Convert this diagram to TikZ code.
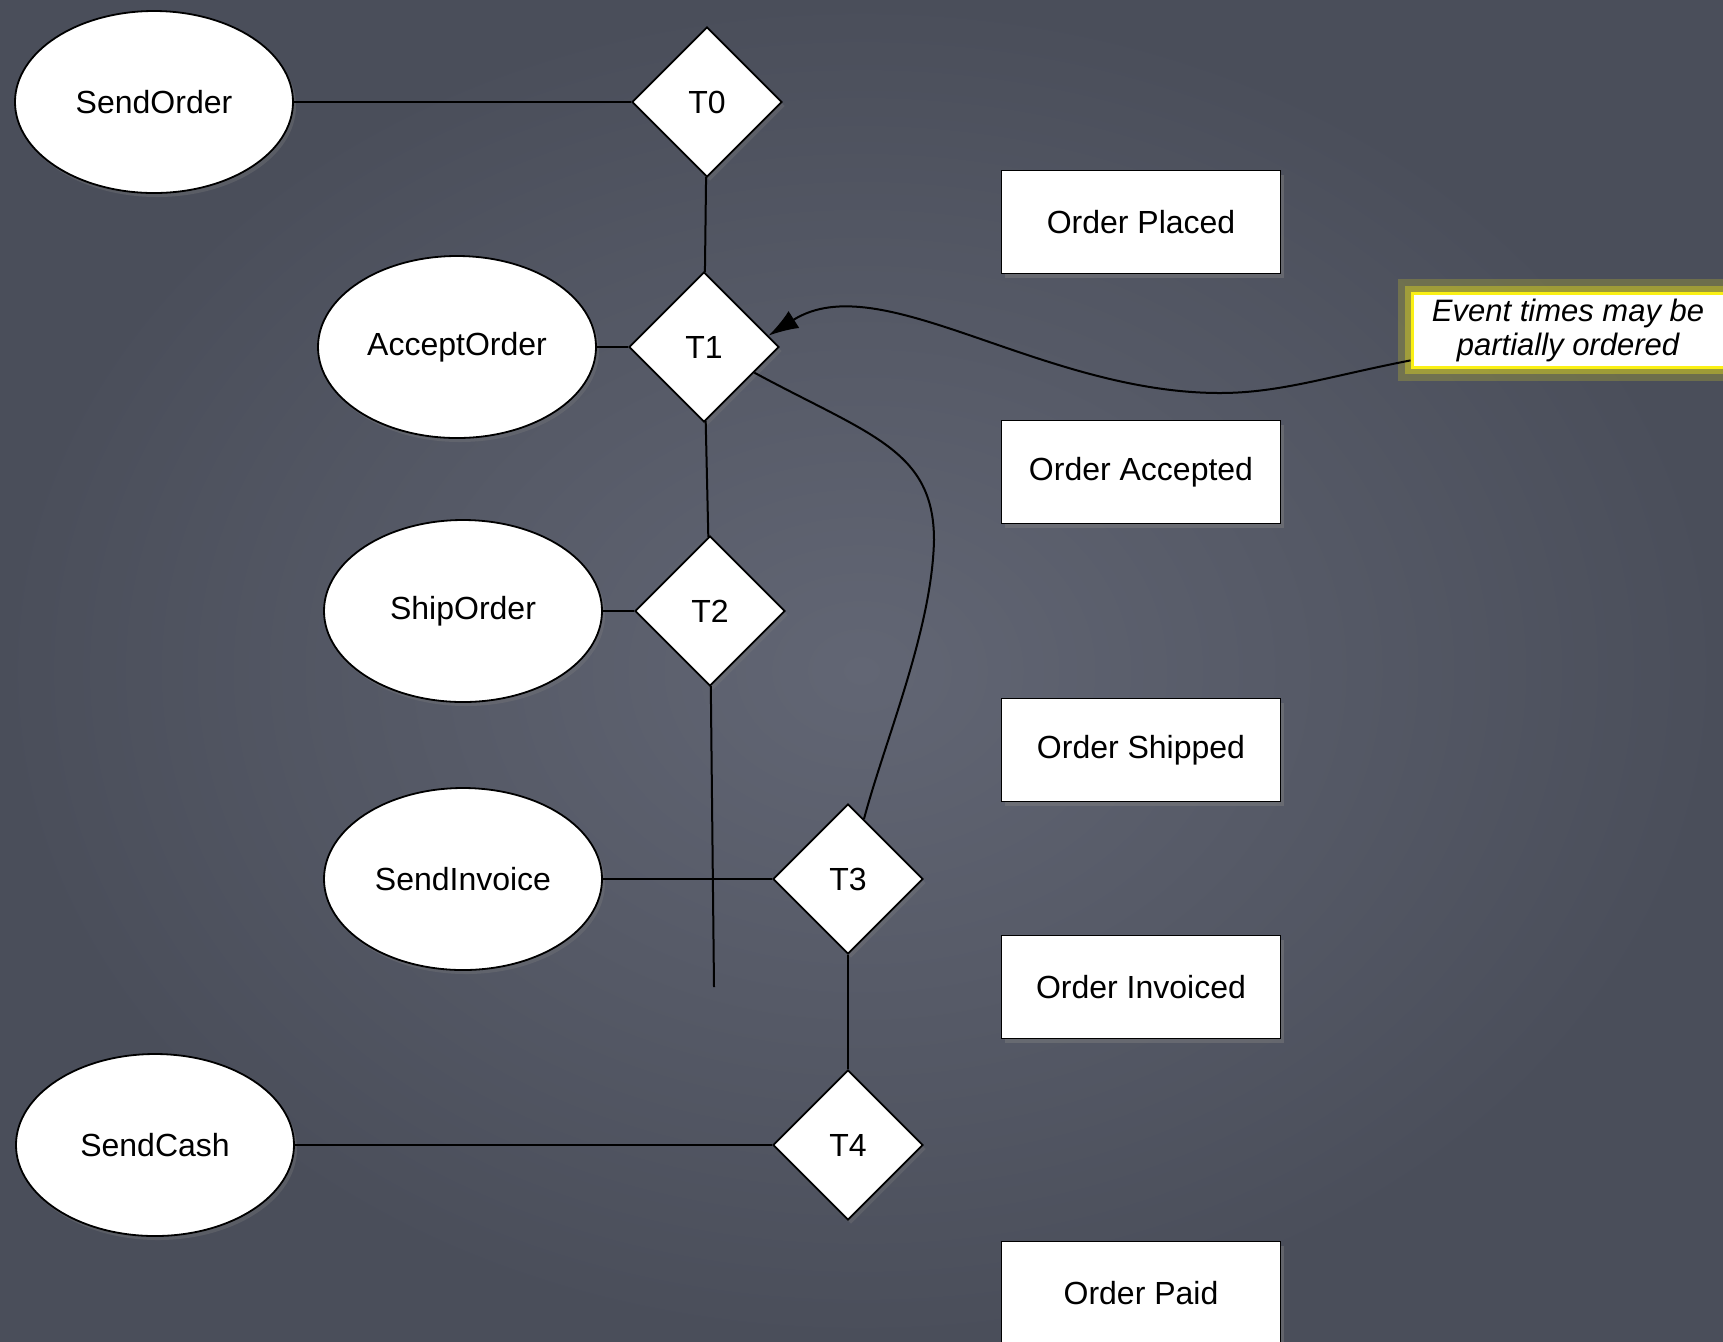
\documentclass[tikz,border=0pt]{standalone}
\usepackage{fontspec}
\setmainfont{Liberation Sans}
\usetikzlibrary{arrows, arrows.meta, shapes, positioning, shadows}
\definecolor{slatelight}{RGB}{98,102,116}
\definecolor{slatedark}{RGB}{74,78,90}
\definecolor{notegold}{RGB}{250,240,20}

\begin{document}
\begin{tikzpicture}[x=0.5pt, y=-0.5pt,
    every node/.style={font=\fontsize{16}{19}\selectfont},
    activity/.style={ellipse, draw=black, fill=white, line width=0.9pt,
      minimum width=139pt, minimum height=91pt, inner sep=0pt,
      drop shadow={opacity=0.3, shadow xshift=1.5pt, shadow yshift=-2pt}},
    trans/.style={diamond, draw=black, fill=white, line width=0.9pt,
      minimum width=75pt, minimum height=75pt, inner sep=0pt, aspect=1,
      drop shadow={opacity=0.3, shadow xshift=1.5pt, shadow yshift=-2pt}},
    state/.style={rectangle, draw=black, fill=white, line width=0.8pt,
      minimum width=139.5pt, minimum height=51.5pt, inner sep=0pt,
      drop shadow={opacity=0.45, shadow xshift=1.5pt, shadow yshift=-2pt}},
    note/.style={rectangle, draw=notegold, fill=white, line width=1.5pt,
      minimum width=156pt, minimum height=37pt, inner sep=1pt, align=center,
      font=\fontsize{15.5}{17}\selectfont\itshape,
      preaction={draw=notegold, opacity=0.2, line width=14pt},
      preaction={draw=notegold, opacity=0.35, line width=7pt}},
    link/.style={draw=black, line width=1pt}
  ]
      % background %
      \fill[inner color=slatelight, outer color=slatedark] (0,0) rectangle (1723,1341);
      \useasboundingbox (0,0) rectangle (1723,1341);

      % nodes %
      \node[trans] (t0) at (707,102) {T0};
      \node[trans] (t1) at (704,347) {T1};
      \node[trans] (t2) at (710,611) {T2};
      \node[trans] (t3) at (848,879) {T3};
      \node[trans] (t4) at (848,1145) {T4};

      \node[activity, left of = t0, node distance=276.5pt] (sendorder) {SendOrder};
      \node[activity, left of = t1, node distance=123.5pt] (acceptorder) {AcceptOrder};
      \node[activity, left of = t2, node distance=123.5pt] (shiporder) {ShipOrder};
      \node[activity, left of = t3, node distance=192.5pt] (sendinvoice) {SendInvoice};
      \node[activity, left of = t4, node distance=346.5pt] (sendcash) {SendCash};

      \node[state] (placed) at (1141,222) {Order Placed};
      \node[state, below of = placed, node distance=125pt] (accepted) {Order Accepted};
      \node[state, below of = accepted, node distance=139pt] (shipped) {Order Shipped};
      \node[state, below of = shipped, node distance=118.5pt] (invoiced) {Order Invoiced};
      \node[state, below of = invoiced, node distance=153pt] (paid) {Order Paid};

      \node[note] (remark) at (1568,330) {Event times may be\\partially ordered};
      \coordinate (t2end) at (714,987);

      % edges %
      \draw[link] (sendorder) -- (t0);
      \draw[link] (t0) -- (t1);
      \draw[link] (acceptorder) -- (t1);
      \draw[link] (t1) -- (t2);
      \draw[link] (shiporder) -- (t2);
      \draw[link] (t2) -- (t2end);
      \draw[link] (sendinvoice) -- (t3);
      \draw[link] (t3) -- (t4);
      \draw[link] (sendcash) -- (t4);
      \draw[link] (t1.-27) .. controls (870,435) and (934,450) .. (934,540)
                 .. controls (932,630) and (885,740) .. (t3);
      \draw[link, -{Latex[length=15pt,width=10pt]}] (remark) .. controls (1330,376) and (1280,393) .. (1220,393)
                 .. controls (1040,393) and (880,265) .. (t1.10);
\end{tikzpicture}
\end{document}
